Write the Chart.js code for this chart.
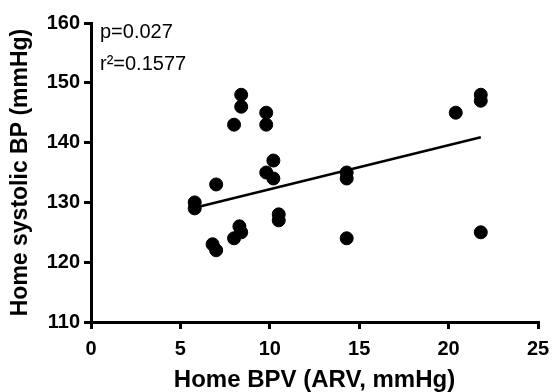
<!DOCTYPE html>
<html>
<head>
<meta charset="utf-8">
<script src="https://cdn.jsdelivr.net/npm/chart.js@4/dist/chart.umd.min.js"></script>
<style>
  html, body { margin: 0; padding: 0; background: #fff; }
  #wrap { width: 553px; height: 392px; }
</style>
</head>
<body>
<div id="wrap"><canvas id="bpvChart" width="553" height="392"></canvas></div>
<script>
// valores
const arvValues = [8.4, 8.4, 8.0, 9.8, 9.8, 10.2, 9.8, 10.2, 7.0, 5.8, 5.8, 10.5, 10.5,
                   8.3, 8.4, 8.0, 6.8, 7.0, 14.3, 14.3, 14.3, 20.4, 21.8, 21.8, 21.8];
const sbpValues = [148, 146, 143, 145, 143, 137, 135, 134, 133, 130, 129, 128, 127,
                   126, 125, 124, 123, 122, 135, 134, 124, 145, 148, 147, 125];
const fitX = [5.8, 21.8];
const fitY = [129.1, 140.9];
const xTicks = [0, 5, 10, 15, 20, 25];
const yTicks = [110, 120, 130, 140, 150, 160];
const statsText = ['p=0.027', 'r\u00B2=0.1577'];

const points = arvValues.map((v, i) => ({ x: v, y: sbpValues[i] }));
const fitLine = fitX.map((v, i) => ({ x: v, y: fitY[i] }));

const fontFamily = "'Liberation Sans', Arial, sans-serif";

// texto com p e r2 no canto superior esquerdo
const statsPlugin = {
    id: 'stats',
    afterDraw(chart) {
        const c = chart.ctx;
        const area = chart.chartArea;
        c.save();
        c.fillStyle = '#000';
        c.font = '20px ' + fontFamily;
        c.textBaseline = 'middle';
        c.textAlign = 'left';
        c.fillText(statsText[0], area.left + 9, 32);
        c.fillText(statsText[1], area.left + 9, 64);
        c.restore();
    }
};

const ctx = document.getElementById('bpvChart').getContext('2d');
const bpvChart = new Chart(ctx, {
    type: 'scatter',
    data: {
        datasets: [
            {
                label: 'Pacientes',
                data: points,
                backgroundColor: '#000',
                borderColor: '#000',
                pointRadius: 6.5,
                pointHoverRadius: 6.5
            },
            {
                type: 'line',
                label: 'Regressão',
                data: fitLine,
                borderColor: '#000',
                borderWidth: 2.5,
                pointRadius: 0,
                fill: false
            }
        ]
    },
    options: {
        responsive: false,
        animation: false,
        layout: { padding: { top: 23, right: 15, left: 0, bottom: 0 } },
        plugins: {
            legend: { display: false },
            tooltip: { enabled: false }
        },
        scales: {
            x: {
                type: 'linear',
                min: 0,
                max: 25,
                afterBuildTicks(scale) { scale.ticks = xTicks.map(v => ({ value: v })); },
                afterFit(scale) {
                    scale.height = 70;
                    scale.paddingLeft = 0;
                    scale.paddingRight = 12;
                },
                border: { color: '#000', width: 3 },
                grid: { drawOnChartArea: false, drawTicks: true, tickLength: 7, color: '#000', lineWidth: 3 },
                ticks: { color: '#000', padding: 8, font: { family: fontFamily, size: 20, weight: 'bold' } },
                title: {
                    display: true,
                    text: 'Home BPV (ARV, mmHg)',
                    color: '#000',
                    padding: { top: 0, bottom: 0 },
                    font: { family: fontFamily, size: 24, weight: 'bold', lineHeight: 1 }
                }
            },
            y: {
                type: 'linear',
                min: 110,
                max: 160,
                afterBuildTicks(scale) { scale.ticks = yTicks.map(v => ({ value: v })); },
                afterFit(scale) { scale.width = 91; },
                border: { color: '#000', width: 3 },
                grid: { drawOnChartArea: false, drawTicks: true, tickLength: 7, color: '#000', lineWidth: 3 },
                ticks: { color: '#000', padding: 4, font: { family: fontFamily, size: 20, weight: 'bold' } },
                title: {
                    display: true,
                    text: 'Home systolic BP (mmHg)',
                    color: '#000',
                    padding: { top: 7, bottom: 0 },
                    font: { family: fontFamily, size: 23, weight: 'bold' }
                }
            }
        }
    },
    plugins: [statsPlugin]
});
</script>
</body>
</html>
